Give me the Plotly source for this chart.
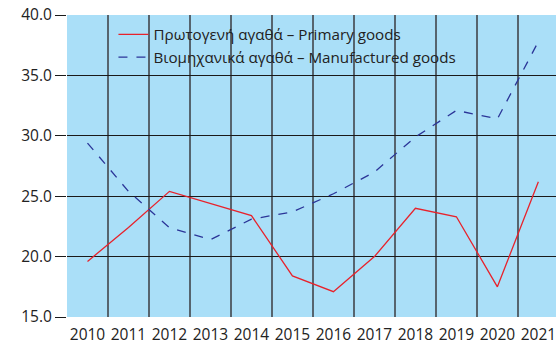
import plotly.graph_objects as go

years = ["2010", "2011", "2012", "2013", "2014", "2015",
         "2016", "2017", "2018", "2019", "2020", "2021"]
primary_goods = [19.6, 22.4, 25.4, 24.4, 23.4, 18.4, 17.1, 20.0, 24.0, 23.3, 17.5, 26.2]
manufactured_goods = [29.4, 25.4, 22.4, 21.4, 23.1, 23.7, 25.2, 27.0, 29.9, 32.1, 31.4, 37.8]
y_ticks = [15, 20, 25, 30, 35, 40]

fig = go.Figure()
fig.add_trace(go.Scatter(
    x=years, y=primary_goods, mode="lines",
    name="Πρωτογενή αγαθά – Primary goods",
    line=dict(color="#e8222b", width=1.3),
))
fig.add_trace(go.Scatter(
    x=years, y=manufactured_goods, mode="lines",
    name="Βιομηχανικά αγαθά – Manufactured goods",
    line=dict(color="#2b3598", width=1.3, dash="dash"),
))

fig.update_layout(
    width=556, height=347,
    margin=dict(l=67, r=0, t=15, b=30, autoexpand=False),
    paper_bgcolor="white",
    plot_bgcolor="#aadff8",
    font=dict(family="Open Sans", size=15, color="#222222"),
    showlegend=True,
    legend=dict(
        x=0.095, y=0.99, xanchor="left", yanchor="top",
        bgcolor="rgba(0,0,0,0)", font=dict(size=15.2, color="#222222"),
        tracegroupgap=0, itemwidth=30,
    ),
    xaxis=dict(
        type="category", range=[-0.5, 11.43],
        tickson="boundaries", ticks="", showgrid=True,
        gridcolor="#56646e", gridwidth=1.5,
        showline=False, zeroline=False,
        tickangle=0, automargin=False, ticklabelstandoff=6,
        tickfont=dict(size=15.5),
    ),
    yaxis=dict(
        range=[15, 40], tickvals=y_ticks,
        ticktext=[f"{v:.1f}" for v in y_ticks],
        showgrid=True, gridcolor="#1a1a1a", gridwidth=1,
        ticks="outside", ticklen=11, tickcolor="#1a1a1a", tickwidth=1,
        showline=False, zeroline=False, automargin=False,
        tickfont=dict(size=15.5),
    ),
)

fig.write_html("out.html")
